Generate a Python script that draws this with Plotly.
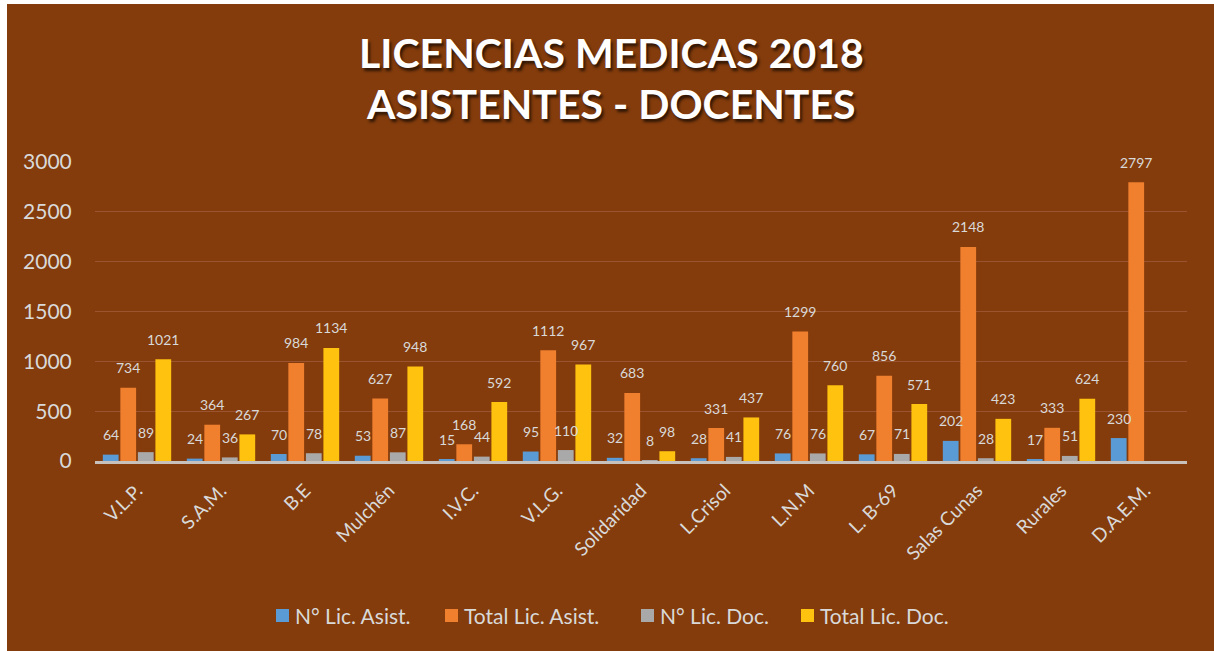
import plotly.graph_objects as go

categories = ["V.L.P.", "S.A.M.", "B.E", "Mulchén", "I.V.C.", "V.L.G.", "Solidaridad",
              "L.Crisol", "L.N.M", "L. B-69", "Salas Cunas", "Rurales", "D.A.E.M."]
n_lic_asist = [64, 24, 70, 53, 15, 95, 32, 28, 76, 67, 202, 17, 230]
total_lic_asist = [734, 364, 984, 627, 168, 1112, 683, 331, 1299, 856, 2148, 333, 2797]
n_lic_doc = [89, 36, 78, 87, 44, 110, 8, 41, 76, 71, 28, 51, None]
total_lic_doc = [1021, 267, 1134, 948, 592, 967, 98, 437, 760, 571, 423, 624, None]

series = [
    ("N° Lic. Asist.", n_lic_asist, "#5B9BD5"),
    ("Total Lic. Asist.", total_lic_asist, "#F07F2E"),
    ("N° Lic. Doc.", n_lic_doc, "#A9A9A9"),
    ("Total Lic. Doc.", total_lic_doc, "#FFC20E"),
]

W, H = 1214, 651
ML, MR, MT, MB = 95, 27, 162, 190
BG = "#843C0C"
LABEL = "#D9D9D9"
FONT = "Lato"

pw, ph = W - ML - MR, H - MT - MB


def px_x(p):
    return (p - ML) / pw


def px_y(p):
    return (H - MB - p) / ph


fig = go.Figure()
for name, vals, col in series:
    fig.add_trace(go.Bar(
        x=categories, y=vals, name=name, showlegend=False,
        marker=dict(color=col, line=dict(width=0)),
    ))

# value labels above each bar, offset per series inside the group
slot = 17.5
offsets = [-1.5 * slot, -0.5 * slot, 0.5 * slot, 1.5 * slot]
annotations = []
for (name, vals, col), dx in zip(series, offsets):
    for c, v in zip(categories, vals):
        if v is None:
            continue
        annotations.append(dict(
            x=c, y=v, xref="x", yref="y", text=str(v), showarrow=False,
            xshift=dx, yshift=20, yanchor="middle",
            font=dict(family=FONT, size=14, color=LABEL),
        ))

title_font = dict(family=FONT, size=41, color="#FFFFFF", weight="bold",
                  shadow="2px 3px 3px rgba(0,0,0,0.65)")
for txt, py in [("LICENCIAS MEDICAS 2018", 52), ("ASISTENTES - DOCENTES", 104)]:
    annotations.append(dict(
        x=px_x(611), y=px_y(py), xref="paper", yref="paper",
        text=txt, showarrow=False, xanchor="center", yanchor="middle",
        font=title_font,
    ))

shapes = [
    # white frame strips at the left and top edges
    dict(type="rect", xref="paper", yref="paper", x0=px_x(0), x1=px_x(7),
         y0=px_y(H), y1=px_y(0), fillcolor="white", line=dict(width=0), layer="above"),
    dict(type="rect", xref="paper", yref="paper", x0=px_x(0), x1=px_x(W),
         y0=px_y(4), y1=px_y(0), fillcolor="white", line=dict(width=0), layer="above"),
]

# legend row below the axis: colour square + series name
legend_x = [276, 445, 641, 801]
legend_y = 615
for (name, vals, col), lx in zip(series, legend_x):
    shapes.append(dict(
        type="rect", xref="paper", yref="paper",
        x0=px_x(lx), x1=px_x(lx + 13), y0=px_y(legend_y + 7), y1=px_y(legend_y - 6),
        fillcolor=col, line=dict(width=0),
    ))
    annotations.append(dict(
        x=px_x(lx + 17), y=px_y(legend_y), xref="paper", yref="paper",
        text=name, showarrow=False, xanchor="left", yanchor="middle",
        font=dict(family=FONT, size=21, color=LABEL),
    ))

fig.update_layout(
    width=W, height=H,
    margin=dict(l=ML, r=MR, t=MT, b=MB, pad=0),
    paper_bgcolor=BG, plot_bgcolor=BG,
    barmode="group", bargap=0.165, bargroupgap=0.1,
    showlegend=False,
    annotations=annotations,
    shapes=shapes,
    xaxis=dict(
        tickangle=-45, tickfont=dict(family=FONT, size=19, color=LABEL),
        showline=True, linecolor="#C8C0BA", linewidth=3, showgrid=False,
        ticks="", ticklabelstandoff=8, fixedrange=True,
    ),
    yaxis=dict(
        range=[0, 3000], dtick=500, tickfont=dict(family=FONT, size=21, color=LABEL),
        gridcolor="#9A5430", gridwidth=1, zeroline=False, showline=False,
        ticks="outside", ticklen=18, tickcolor=BG, fixedrange=True,
    ),
)

fig.write_html("out.html")
